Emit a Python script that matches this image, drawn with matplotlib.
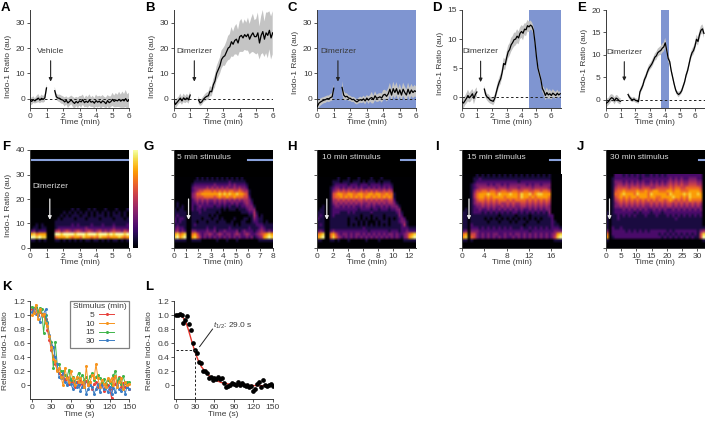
import numpy as np
import matplotlib
matplotlib.use("Agg")
import matplotlib.pyplot as plt

plt.rcParams["font.family"] = ["Liberation Sans", "DejaVu Sans"]
plt.rcParams["mathtext.fontset"] = "custom"
plt.rcParams["mathtext.it"] = "Liberation Sans:italic"
plt.rcParams["mathtext.rm"] = "Liberation Sans"
plt.rcParams["font.size"] = 6
plt.rcParams["axes.linewidth"] = 0.7

W, H = 705, 421
n = np.nan
GREY = "#3a3a3a"
BLUE = "#7f95d1"
BAR = "#8aa2dc"

# traces, one value every 0.1 min
trace_a = [-0.5,-1,-0.3,-0.8,-0.2,0.3,-0.5,0.2,-0.2,0.4,4.3,n,n,n,n,3.2,0.8,0.3,0.2,-0.3,-0.5,-1.2,-0.6,-1.6,-1,-0.4,-1.2,-1.8,-1,-1.6,-0.8,-1.2,-0.3,-1.5,-0.9,-1.4,-0.5,-1.3,-1,-1.7,-0.7,-1.3,-0.9,-1.6,-0.8,-1.2,-1.9,-0.7,-1.5,-1.1,-0.2,-1,-0.5,-0.8,-0.2,-0.9,-0.3,-0.8,0.1,-1,-0.6]
err_a = [1.2,1.5,1.3,1,1.4,1.6,1.2,1.5,1.3,1.5,1.5,n,n,n,n,1.5,1.2,1.3,1.5,1.6,1.5,1.8,1.6,2,1.8,1.7,2,2.2,1.8,2.1,1.9,2.3,2,1.8,2.2,2.1,2.3,1.9,2.2,2,2.4,2.2,2.1,2.5,2.3,2,2.4,2.2,2.5,2.1,2.6,2.3,2.8,2.4,3,2.6,3.2,2.7,3.4,2.8,3]
trace_b = [-0.5,-2.2,-1.4,-0.6,0.3,-0.8,0.4,-0.3,0.4,-0.4,1.5,n,n,n,n,-0.4,-1.6,-1.2,-0.2,0.5,1,1.2,3,2.8,5.5,7,10,11.5,13,15.5,16.5,17,18.5,20,20.5,22.5,21.5,23,23.5,22,24.5,25,24,25.3,24.5,25.5,23.5,25,26,24.5,24.5,26,22,25,26.5,23.5,26,25,27,24,26]
err_b = [1.5,2,1.6,1.4,1.8,1.5,1.7,1.4,1.6,1.5,1.5,n,n,n,n,1.4,1.2,1.3,1.2,1.4,1.5,1.6,2,1.8,2.2,2.5,2.8,3,3.2,3.6,3.4,4,4.2,4.8,5,5.8,5,5.5,6,5.2,6,6.5,5.5,6,5.5,6.5,6,6.8,7.5,6.5,7,8,6.5,7.5,8.5,7,8,9,7.5,8.5,8.5]
trace_c = [-3,-1.7,-1.2,-0.8,-0.5,-0.3,0.1,0,0.5,0.8,4.2,n,n,n,n,4.5,1.5,0.8,1,0.3,0.2,-0.3,-0.2,-0.8,-1.2,-0.7,-0.3,-0.6,0,-0.8,0.3,-0.5,0.2,0.5,-0.3,1.2,0.2,0.5,0.8,0.3,1.5,1.8,1,2,3.8,1.5,4,2.5,4,1.8,3.5,1.5,3.8,2.5,1.5,3.8,2,3.5,2.5,3.2,2.8]
err_c = [1.5,1.6,1.4,1.3,1.2,1.3,1.2,1.3,1.4,1.5,1.5,n,n,n,n,2.5,1.8,1.4,1.2,1.1,1,1,1,1.1,1,1.1,1.2,1.1,1.3,1.4,1.2,1.5,1.3,2.3,1.5,1.8,1.4,1.6,1.5,1.8,2,1.8,2,2.3,2.5,2.2,2.8,2.4,2.6,2.3,2.5,2.2,2.6,2.4,2.2,2.6,2.3,2.4,2.2,2.3,2]
trace_d = [-0.8,-1,-0.6,-0.2,0.3,-0.1,0.2,0.6,-0.2,0.5,0.9,n,n,n,n,1.4,0.4,0,-0.2,-0.5,-0.6,-0.7,-0.2,0.8,1.8,2.6,3.2,4.3,5.8,5.6,6.8,7.8,8.2,9,9.4,9.9,10,10.5,10.2,11,11.3,11,11.7,11.6,12.3,12.1,12.4,12.2,11.5,9.5,7,5,4,3,1.5,1,0.3,0.8,0.4,0.6,0.3,0.7,0.5,0.3,0.7,0.4,0.6]
err_d = [0.9,1,0.8,0.9,1,0.8,0.9,0.8,1,0.9,0.8,n,n,n,n,0.6,0.6,0.6,0.7,0.6,0.6,0.7,0.7,0.7,0.8,0.8,0.9,0.9,1,0.9,1,1.1,1.1,1.2,1.1,1.2,1.1,1.2,1.1,1,1.1,1.2,1,1.1,1,0.9,0.8,0.7,0.7,0.7,0.7,0.6,0.6,0.6,0.6,0.7,0.8,0.9,0.7,0.8,0.7,0.7,0.6,0.6,0.6,0.5,0.5]
trace_e = [-0.8,-0.6,-0.3,0.2,0.5,0.3,-0.2,0.4,0.2,-0.2,-0.3,n,n,n,n,1.2,0.6,0.2,0,0.2,-0.1,-0.2,-0.4,1.8,2.5,3.3,4.5,5.2,6.2,7,7.5,8,8.7,9.5,9.8,10.5,10.8,11,11.5,11.8,12.7,11,9.2,8.5,6.5,5,3.5,2.2,1.5,1.2,1.5,2,3,4,5.5,6.5,8,9.5,10.5,11,12,13.5,13,14.5,15.5,15.8,14.8]
err_e = [1,0.9,0.8,0.9,0.8,0.8,0.8,0.7,0.8,0.7,0.7,n,n,n,n,0.5,0.5,0.5,0.5,0.5,0.5,0.5,0.5,0.6,0.6,0.7,0.7,0.7,0.7,0.8,0.7,0.8,0.8,0.8,0.9,0.9,0.9,1,1,1,1.1,0.9,0.8,0.7,0.6,0.6,0.5,0.5,0.5,0.6,0.5,0.6,0.6,0.6,0.7,0.7,0.8,0.8,0.8,0.9,0.9,1,0.9,1,1,1,1]

# heatmap counts 0-9, bottom row first, rows are 1.25 au tall
heat_f = [
"000000000000000000000000000000000000",
"000000000000000000000000000000000000",
"110101000110101010101101101010110101",
"998988000677787677687767687767778767",
"786777000998999989998999899989899989",
"231222000453454345434543453434544354",
"011011000122222222223222222222322222",
"001010000111111212111121112111211112",
"000000000111111111111111111111111111",
"000000000010111101110111101111011101",
"000000000001010111011010111010111010",
"000000000000101010101010101010101010",
"000000000000000101000101000100010001",
]
heat_g = [
"0000000000000000000000000000000000000000",
"0000000000000000000000000000000000000000",
"1111100111100000010001000100000000111111",
"8978900786423232323232323232232312347898",
"7867800675323343234323323432343223456787",
"3423200332222322312232222312322212343232",
"2322100111111211211111211111112111232111",
"1211100121111111111111110101111112221111",
"2121100110111011101110010001100122110100",
"2122100111101110110100001000110132110000",
"1211100111111101010000000000001142010000",
"1111100111211111101000000001112241000000",
"1011000212212111111010111011123330000000",
"0101000212322222122121211212233310000000",
"0100000223232322323232232322343200000000",
"0000000234343433434343434343443100000000",
"0000000345556666567667667666552000000000",
"0000000346677777778787877877651000000000",
"0000000234556665656565665565441000000000",
"0000000233333434343434334343320000000000",
"0000000122222222322222323222210000000000",
"0000000011111111111111211111100000000000",
"0000000001010101010101010101000000000000",
]
heat_h = [
"000000000000000000000000000000000000000",
"000000000000000000000000000000000000000",
"110001101000100000010000100000000011111",
"789006864323232323232323232323232134789",
"678006753233232332323232323233232234678",
"232002322222222222221222222212221223222",
"111001111111111111211111111111111222111",
"121001111111010101010101010101111241000",
"111001111111011101010001011101112331000",
"211001111111011010101010110101012320000",
"121001211111111110111011110111113200000",
"111001222111212111111211111111123100000",
"011001222222222212222122122212233000000",
"001001233232323223233232232323331000000",
"000001343434343434334343434344310000000",
"000001445454545455454545454455200000000",
"000001566767676767677676767676100000000",
"000001567766776677667767766766100000000",
"000001345454545445454545445454000000000",
"000001233232332323223232323232000000000",
"000000122222122212221222212221000000000",
"000000111011101110101110101110000000000",
"000000001000100010000100010000000000000",
]
heat_i = [
"000000000000000000000000000000000000",
"000000000000000000000000000000000000",
"110100000000000000000000000000000111",
"780653232323232322323232323232323589",
"670553232323322323233232323232323478",
"230333222222222222222222122222222333",
"110222121212121212111211212121212221",
"110211111111111111111101111111112110",
"110111111011101110101110111011112100",
"110111110101010101010101010101112000",
"110111111111101111101111011111122000",
"110122212121212121221212121212130000",
"010122322323232323232322323232330000",
"000123343434334343433443434343430000",
"000134454545454454544554545454540000",
"000135665656566656566665656565650000",
"000146776767777677776877676777760000",
"000146777877687778776877867887770000",
"000135566566556655665566556656650000",
"000123444444344434443444434444430000",
"000123333232332323333332323323330000",
"000012222222222222221222222222220000",
"000011211111111111111111111111110000",
"000001010101010101010101010101010000",
]
heat_j = [
"000000000000000000000000000000000000",
"000000000000000000000000000000000000",
"100000000000000000000000000000000001",
"701222222222222222221212121212121159",
"602222222222222222212121212121212158",
"302222212121212122222212122222222134",
"102112111111111111111111111111111111",
"101111111111111111111111111111111110",
"101111111111111111111111111111111110",
"101121111111111111111111121111111110",
"101121212121112111211121212121212120",
"101222222212122212221222222222222220",
"001222323232323223232322323232323230",
"001334343434343343434344343434343430",
"001345454545454454545455454545454540",
"001456565656565656566567656565766660",
"001567676776777677667777877676877770",
"001667877768777687777768777787877870",
"001566766667667667766677677666777760",
"001455554555455544555556566556666650",
"001344343434343343434345454544555440",
"001333232323232232323234343433444330",
"001222222222122222222223232322333220",
"000222121212121121212122222222222220",
]

# decay curves, one value every 3 s
decay_5 = [1.08,1.05,1.1,1.0,1.05,1.02,0.98,0.95,0.78,0.65,0.5,0.42,0.3,0.22,0.18,0.15,0.1,0.08,0.12,0.02,0.05,0.06,-0.02,0.05,0.0,0.08,0.02,-0.03,0.06,0.0,0.04,-0.05,0.02,0.05,-0.02,0.0,0.03,-0.08,0.02,0.0,-0.05,-0.18,0.12,0.02,0.0,0.12,-0.02,0.03,-0.03,0.02,-0.05]
decay_10 = [1.0,1.03,1.15,0.95,1.08,1.0,1.02,0.88,0.85,0.7,0.55,0.38,0.35,0.2,0.25,0.12,0.0,0.25,0.1,0.05,0.2,0.1,0.0,0.12,0.05,0.1,0.05,-0.03,0.27,0.0,0.05,0.15,0.1,0.3,0.1,-0.02,0.08,0.02,-0.03,0.1,0.06,0.1,0.0,0.13,-0.02,0.05,0.1,-0.05,0.04,0.0,0.02]
decay_15 = [1.12,1.1,1.12,1.05,1.1,1.08,0.75,1.0,0.9,0.7,0.62,0.25,0.62,0.3,0.3,0.2,0.2,0.15,0.1,0.22,0.08,0.12,0.05,0.1,0.18,0.1,0.14,0.08,0.12,0.05,0.13,0.17,0.08,0.12,0.15,0.1,0.05,0.09,0.02,0.08,0.04,0.0,0.14,0.2,0.06,0.1,0.02,0.13,0.03,0.05,0.04]
decay_30 = [1.05,1.08,1.02,1.0,0.9,1.0,1.02,1.08,0.88,0.72,0.58,0.55,0.4,0.3,0.12,0.1,0.18,0.05,0.0,0.08,0.02,-0.05,0.05,-0.02,0.02,-0.08,-0.02,0.04,-0.12,-0.05,0.0,-0.03,-0.12,-0.05,0.02,-0.1,0.0,-0.06,-0.03,-0.1,-0.02,-0.12,-0.04,-0.1,0.02,-0.05,-0.08,0.0,-0.12,-0.02,-0.06]
mean_decay = [1.0,1.0,1.01,1.0,0.88,0.93,0.98,0.87,0.79,0.6,0.5,0.46,0.33,0.31,0.2,0.2,0.18,0.1,0.12,0.08,0.1,0.09,0.12,0.09,0.1,0.03,-0.02,-0.01,0.0,0.03,0.02,0.01,0.05,0.0,0.03,0.01,-0.01,0.0,-0.03,-0.01,-0.08,-0.05,0.02,0.05,-0.03,0.07,0.01,-0.01,0.01,0.02,-0.01]
fit_time = [0,10,15,20,25,30,35,40,50,60,70,80,100,150]
fit_value = [1.0,0.98,0.92,0.78,0.62,0.47,0.35,0.26,0.15,0.08,0.04,0.02,0.0,-0.01]

fig = plt.figure(figsize=(W / 100, H / 100), dpi=100)


def new_axes(x0, y0, x1, y1):
    ax = fig.add_axes([x0 / W, 1 - y1 / H, (x1 - x0) / W, (y1 - y0) / H])
    ax.spines["top"].set_visible(False)
    ax.spines["right"].set_visible(False)
    for s in ax.spines.values():
        s.set_color(GREY)
    ax.tick_params(length=2, width=0.6, pad=1.5, color=GREY, labelcolor=GREY, labelsize=6)
    return ax


def letter(s, x, y):
    fig.text(x / W, 1 - y / H, s, fontsize=9.5, fontweight="bold", color="black", va="center", ha="left")


def labels(ax, ylabel, yfrac, xlabel="Time (min)", xoff=-0.115, yoff=-0.18):
    ax.set_xlabel(xlabel, fontsize=6, color=GREY)
    ax.xaxis.set_label_coords(0.5, xoff)
    if ylabel:
        ax.set_ylabel(ylabel, fontsize=6, color=GREY)
        ax.yaxis.set_label_coords(yoff, yfrac)


def arrow(ax, x, y0, y1, color="black", lw=0.8):
    ax.annotate("", xy=(x, y1), xytext=(x, y0),
                arrowprops=dict(arrowstyle="-|>", lw=lw, color=color, mutation_scale=5, shrinkA=0, shrinkB=0))


def trace_panel(box, values, err, xlim, ylim, xticks, yticks, yfrac, word, word_y, arrow_y):
    ax = new_axes(*box)
    v = np.array(values, dtype=float)
    e = np.array(err, dtype=float)
    k = min(len(v), len(e))
    t = np.arange(k) * 0.1
    ax.fill_between(t, v[:k] - e[:k], v[:k] + e[:k], color="#c4c4c4", lw=0, zorder=2)
    ax.plot([0, xlim[1]], [0, 0], color="#222222", lw=0.7, dashes=(2.5, 2.5), zorder=3)
    ax.plot(t, v[:k], color="black", lw=0.9, zorder=4)
    ax.set_xlim(xlim)
    ax.set_ylim(ylim)
    ax.set_xticks(xticks)
    ax.set_yticks(yticks)
    labels(ax, "Indo-1 Ratio (au)", yfrac)
    ax.text(1.25, word_y, word, fontsize=6, color=GREY, ha="center", va="center", zorder=6)
    arrow(ax, 1.25, arrow_y[0], arrow_y[1], color="#222222")
    return ax


def heat_panel(box, rows, xmax, xticks, ylabel=False):
    ax = new_axes(*box)
    ax.set_facecolor("black")
    grid = np.array([[int(c) for c in r] for r in rows], dtype=float)
    im = ax.imshow(grid, origin="lower", cmap="inferno", vmin=0, vmax=9, aspect="auto",
                   extent=(0, xmax, 0, len(rows) * 1.25), interpolation="bilinear")
    ax.set_xlim(0, xmax)
    ax.set_ylim(0, 40)
    ax.set_xticks(xticks)
    ax.set_yticks([0, 10, 20, 30, 40])
    if not ylabel:
        ax.set_yticklabels([])
    labels(ax, "Indo-1 Ratio (au)" if ylabel else None, 0.43)
    return ax, im


# row 1
ax_a = trace_panel((30, 10, 129, 108), trace_a, err_a, (0, 6), (-3.6, 35), range(7), [0, 10, 20, 30], 0.42,
                   "Vehicle", 18.5, (15, 6.8))
ax_b = trace_panel((173.7, 10, 272.7, 108), trace_b, err_b, (0, 6), (-3.6, 35), range(7), [0, 10, 20, 30], 0.42,
                   "Dimerizer", 18.5, (15, 6.8))
ax_c = trace_panel((317.3, 10, 416.3, 108), trace_c, err_c, (0, 6), (-3.6, 35), range(7), [0, 10, 20, 30], 0.47,
                   "Dimerizer", 18.5, (15, 6.8))
ax_c.axvspan(0, 6, color=BLUE, lw=0, zorder=0)
ax_d = trace_panel((462, 10, 561, 108), trace_d, err_d, (0, 6.65), (-1.85, 15), range(7), [0, 5, 10, 15], 0.45,
                   "Dimerizer", 7.8, (6.2, 2.6))
ax_d.axvspan(4.5, 6.65, color=BLUE, lw=0, zorder=0)
ax_e = trace_panel((605.7, 10, 704.7, 108), trace_e, err_e, (0, 6.65), (-1.8, 20), range(7), [0, 5, 10, 15, 20], 0.49,
                   "Dimerizer", 10.6, (8.5, 4.2))
ax_e.axvspan(3.72, 4.25, color=BLUE, lw=0, zorder=0)

# row 2
ax_f, im_f = heat_panel((30, 150, 129, 248), heat_f, 6, range(7), ylabel=True)
ax_f.plot([0, 6], [35.8, 35.8], color=BAR, lw=1.5)
ax_f.text(0.15, 25, "Dimerizer", color="#d8d8d8", fontsize=6, va="center")
arrow(ax_f, 1.2, 20, 11.5, color="#e8e8e8", lw=0.9)

ax_g, _ = heat_panel((173.7, 150, 272.7, 248), heat_g, 8, range(0, 9))
ax_g.plot([6, 8], [35.8, 35.8], color=BAR, lw=1.5)
ax_g.text(0.3, 36.8, "5 min stimulus", color="#d8d8d8", fontsize=6, va="center")
arrow(ax_g, 1.2, 20, 11.5, color="#e8e8e8", lw=0.9)

ax_h, _ = heat_panel((317.3, 150, 416.3, 248), heat_h, 13, range(0, 13, 2))
ax_h.plot([11, 13], [35.8, 35.8], color=BAR, lw=1.5)
ax_h.text(0.65, 36.8, "10 min stimulus", color="#d8d8d8", fontsize=6, va="center")
arrow(ax_h, 1.25, 20, 11.5, color="#e8e8e8", lw=0.9)

ax_i, _ = heat_panel((462, 150, 561, 248), heat_i, 17.7, range(0, 17, 4))
ax_i.plot([15.8, 17.7], [35.8, 35.8], color=BAR, lw=1.5)
ax_i.text(0.9, 36.8, "15 min stimulus", color="#d8d8d8", fontsize=6, va="center")
arrow(ax_i, 1.25, 20, 11.5, color="#e8e8e8", lw=0.9)

ax_j, _ = heat_panel((605.7, 150, 704.7, 248), heat_j, 32.4, range(0, 31, 5))
ax_j.plot([30.5, 32.4], [35.8, 35.8], color=BAR, lw=1.5)
ax_j.text(1.4, 36.8, "30 min stimulus", color="#d8d8d8", fontsize=6, va="center")
arrow(ax_j, 1.25, 20, 11.5, color="#e8e8e8", lw=0.9)

cax = fig.add_axes([133.3 / W, 1 - 248 / H, 4.4 / W, 98 / H])
fig.colorbar(im_f, cax=cax, ticks=[])
cax.set_frame_on(False)

# row 3
ax_k = new_axes(30, 301, 129, 399.3)
for vals, col, name, z in [(decay_5, "#e8413c", "5", 2), (decay_15, "#3fb54a", "15", 3),
                           (decay_30, "#3b7dc4", "30", 4), (decay_10, "#f7941d", "10", 5)]:
    ax_k.plot(np.arange(len(vals)) * 3, vals, "-o", color=col, lw=0.7, ms=2.2, mew=0, zorder=z, label=name, clip_on=False)
ax_k.set_xlim(-3, 150)
ax_k.set_ylim(-0.2, 1.2)
ax_k.set_xticks(range(0, 151, 30))
ax_k.set_yticks([0, 0.2, 0.4, 0.6, 0.8, 1.0, 1.2])
ax_k.set_yticklabels(["0", "0.2", "0.4", "0.6", "0.8", "1.0", "1.2"])
labels(ax_k, "Relative Indo-1 Ratio", 0.5, "Time (s)", -0.115, -0.215)
handles, names = ax_k.get_legend_handles_labels()
order = [names.index(s) for s in ["5", "10", "15", "30"]]
leg = ax_k.legend([handles[i] for i in order], [names[i] for i in order], title="Stimulus (min)",
                  markerfirst=False, fontsize=6, title_fontsize=6, loc="upper right",
                  bbox_to_anchor=(1.0, 1.0), borderaxespad=0, handlelength=1.8, labelspacing=0.1,
                  borderpad=0.3, handletextpad=0.5, fancybox=False, framealpha=1, edgecolor="#808080",
                  alignment="center", labelcolor=GREY)
leg.get_frame().set_linewidth(0.9)
leg.get_title().set_color(GREY)
leg.set_zorder(10)

ax_l = new_axes(174, 301, 272.7, 399.3)
ax_l.plot(np.arange(len(mean_decay)) * 3, mean_decay, "o", color="black", ms=3.4, mew=0, zorder=3)
ax_l.plot(fit_time, fit_value, color="#e8352c", lw=1, zorder=2)
ax_l.plot([0, 30, 30], [0.5, 0.5, -0.2], color="#222222", lw=0.7, dashes=(2.5, 2), zorder=4)
ax_l.plot([37, 57], [0.55, 0.8], color="#222222", lw=0.7)
ax_l.text(58, 0.85, r"$\mathit{t}_{1/2}$: 29.0 s", fontsize=6, color=GREY, va="center")
ax_l.set_xlim(-2.6, 150)
ax_l.set_ylim(-0.2, 1.2)
ax_l.set_xticks(range(0, 151, 30))
ax_l.set_yticks([0, 0.2, 0.4, 0.6, 0.8, 1.0, 1.2])
ax_l.set_yticklabels(["0", "0.2", "0.4", "0.6", "0.8", "1.0", "1.2"])
labels(ax_l, "Relative Indo-1 Ratio", 0.5, "Time (s)", -0.115, -0.215)

for s, x, y in [("A", 1, 8), ("B", 145, 8), ("C", 288, 8), ("D", 432, 8), ("E", 577, 8),
                ("F", 2, 147), ("G", 143, 147), ("H", 287, 147), ("I", 435, 147), ("J", 577, 147),
                ("K", 2, 287), ("L", 145, 287)]:
    letter(s, x, y)

fig.savefig("out.png", dpi=100)
